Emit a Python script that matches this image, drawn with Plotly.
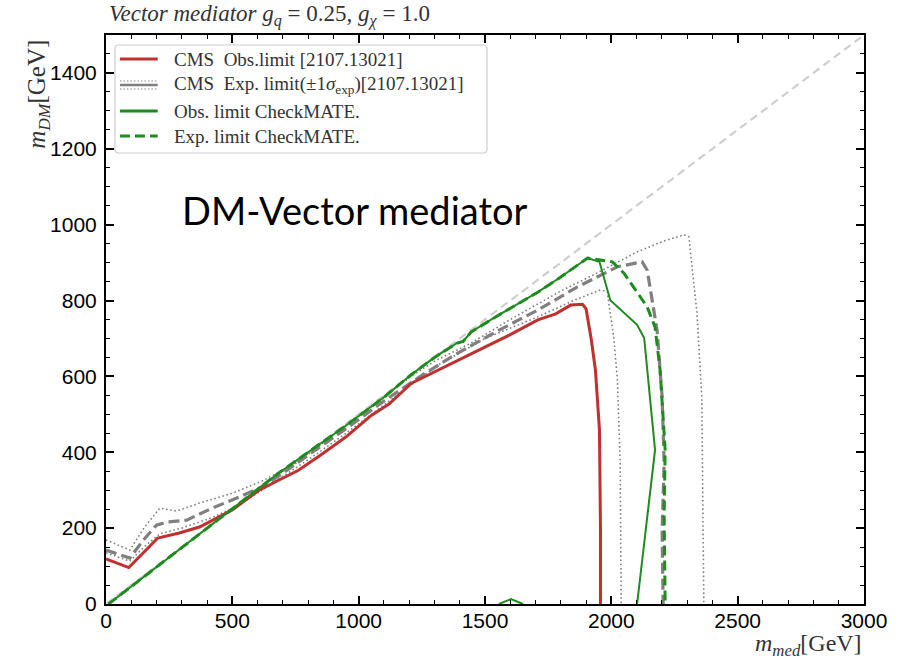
import plotly.graph_objects as go

# ---- data (GeV) ----
diag_x = [0, 3000]
diag_y = [0, 1500]

cms_obs_x = [0, 90, 140, 205, 290, 370, 500, 606, 685, 760, 850, 949, 1050, 1120, 1209,
             1300, 1421, 1472, 1600, 1709, 1780, 1839, 1886, 1900, 1920, 1937, 1953, 1957, 1957]
cms_obs_y = [119, 96, 130, 174, 187, 203, 248, 300, 327, 352, 393, 440, 497, 527, 582,
             612, 651, 670, 710, 749, 765, 788, 790, 778, 700, 617, 459, 200, 0]

cms_exp_x = [0, 94, 150, 200, 240, 319, 421, 528, 620, 700, 800, 950, 1100, 1250, 1394,
             1550, 1709, 1866, 2024, 2122, 2142, 2181, 2201, 2209, 2201, 2205]
cms_exp_y = [142, 121, 170, 208, 216, 221, 253, 282, 310, 345, 392, 462, 535, 603, 662,
             720, 775, 836, 889, 902, 880, 722, 546, 372, 195, 0]

cms_exp_up_x = [0, 94, 150, 213, 279, 370, 500, 620, 750, 900, 1050, 1200, 1300, 1445,
                1600, 1800, 1945, 2102, 2200, 2287, 2307, 2320, 2339, 2358, 2366]
cms_exp_up_y = [169, 142, 200, 253, 245, 266, 292, 325, 370, 445, 520, 597, 640, 688,
                750, 825, 873, 928, 955, 973, 968, 880, 767, 546, 0]

cms_exp_dn_x = [0, 94, 150, 213, 300, 420, 520, 650, 800, 950, 1100, 1315, 1500, 1709,
                1850, 1957, 1984, 1992, 2010, 2024, 2035, 2039]
cms_exp_dn_y = [135, 113, 150, 185, 200, 228, 258, 315, 380, 450, 525, 630, 700, 757,
                800, 828, 823, 783, 700, 591, 372, 0]

cm_obs_x = [10, 200, 400, 594, 685, 800, 949, 1100, 1209, 1300, 1390, 1413, 1445, 1550,
            1709, 1800, 1870, 1906, 1953, 1996, 2102, 2130, 2173, 2102,
            None, 1555, 1603, 1650]
cm_obs_y = [0, 97, 200, 300, 346, 400, 470, 545, 605, 650, 688, 692, 717, 760,
            822, 862, 895, 912, 902, 801, 736, 701, 406, 0,
            None, 0, 13, 0]

cm_exp_x = [10, 200, 400, 594, 685, 800, 949, 1100, 1209, 1300, 1390, 1413, 1445, 1550,
            1709, 1800, 1870, 1906, 2004, 2050, 2142, 2173, 2193, 2213, 2209, 2213]
cm_exp_y = [0, 97, 200, 300, 346, 400, 470, 545, 605, 650, 688, 692, 717, 760,
            822, 862, 895, 912, 902, 872, 783, 730, 617, 406, 230, 0]

RED = "#c0302f"
GREEN = "#1f8b1f"
GRAY = "#808080"
LGRAY = "#cfcfcf"

fig = go.Figure()
fig.add_trace(go.Scatter(x=diag_x, y=diag_y, mode="lines",
                         line=dict(color=LGRAY, width=2.2, dash="8px,5px")))
fig.add_trace(go.Scatter(x=cms_exp_up_x, y=cms_exp_up_y, mode="lines",
                         line=dict(color=GRAY, width=1.6, dash="1.6px,2.6px")))
fig.add_trace(go.Scatter(x=cms_exp_dn_x, y=cms_exp_dn_y, mode="lines",
                         line=dict(color=GRAY, width=1.6, dash="1.6px,2.6px")))
fig.add_trace(go.Scatter(x=cms_exp_x, y=cms_exp_y, mode="lines",
                         line=dict(color=GRAY, width=3.2, dash="11px,5px")))
fig.add_trace(go.Scatter(x=cms_obs_x, y=cms_obs_y, mode="lines",
                         line=dict(color=RED, width=3)))
fig.add_trace(go.Scatter(x=cm_obs_x, y=cm_obs_y, mode="lines",
                         line=dict(color=GREEN, width=2)))
fig.add_trace(go.Scatter(x=cm_exp_x, y=cm_exp_y, mode="lines",
                         line=dict(color=GREEN, width=3, dash="10px,5px")))

# plot area in pixels: x 106..868, y 35..604
L, R, T, B = 106, 868, 35, 604
W, H = R - L, B - T


def px(x):
    return (x - L) / W


def py(y):
    return (B - y) / H


SERIF = "Liberation Serif"
shapes = []
annotations = []

# legend frame with rounded corners
lx0, lx1, ly0, ly1, r = px(115), px(489), py(45), py(153), 4
rx, ry = r / W, r / H
path = (f"M {lx0+rx},{ly0} L {lx1-rx},{ly0} Q {lx1},{ly0} {lx1},{ly0-ry} "
        f"L {lx1},{ly1+ry} Q {lx1},{ly1} {lx1-rx},{ly1} L {lx0+rx},{ly1} "
        f"Q {lx0},{ly1} {lx0},{ly1+ry} L {lx0},{ly0-ry} Q {lx0},{ly0} {lx0+rx},{ly0} Z")
shapes.append(dict(type="path", xref="paper", yref="paper", path=path,
                   line=dict(color="#cccccc", width=1.2), fillcolor="rgba(255,255,255,0.85)"))

rows = [59, 85, 111, 136]
labels = [
    "CMS  Obs.limit [2107.13021]",
    "CMS  Exp. limit(±1<i>σ</i><sub>exp</sub>)[2107.13021]",
    "Obs. limit CheckMATE.",
    "Exp. limit CheckMATE.",
]
sx0, sx1 = px(120), px(158)
shapes.append(dict(type="line", xref="paper", yref="paper", x0=sx0, x1=sx1,
                   y0=py(rows[0]), y1=py(rows[0]), line=dict(color=RED, width=3)))
shapes.append(dict(type="line", xref="paper", yref="paper", x0=sx0, x1=sx1,
                   y0=py(rows[1]), y1=py(rows[1]), line=dict(color=GRAY, width=2.5)))
for d in (-4, 4):
    shapes.append(dict(type="line", xref="paper", yref="paper", x0=sx0, x1=sx1,
                       y0=py(rows[1] + d), y1=py(rows[1] + d),
                       line=dict(color=GRAY, width=1.2, dash="1.5px,2px")))
shapes.append(dict(type="line", xref="paper", yref="paper", x0=sx0, x1=sx1,
                   y0=py(rows[2]), y1=py(rows[2]), line=dict(color=GREEN, width=3)))
shapes.append(dict(type="line", xref="paper", yref="paper", x0=sx0, x1=sx1,
                   y0=py(rows[3]), y1=py(rows[3]),
                   line=dict(color=GREEN, width=3, dash="10px,5px")))
for yy, t in zip(rows, labels):
    annotations.append(dict(x=px(172), y=py(yy), xref="paper", yref="paper",
                            text=t, showarrow=False, xanchor="left", yanchor="middle",
                            font=dict(family=SERIF, size=19, color="#333333")))

# title, axis titles, big caption
annotations.append(dict(x=px(107), y=py(15), xref="paper", yref="paper",
                        text="<i>Vector mediator g</i><sub><i>q</i></sub> = 0.25, <i>g</i><sub><i>χ</i></sub> = 1.0",
                        showarrow=False, xanchor="left", yanchor="middle",
                        font=dict(family=SERIF, size=23, color="#333333")))
annotations.append(dict(x=px(868), y=py(645), xref="paper", yref="paper",
                        text="<i>m</i><sub><i>med</i></sub>[GeV]",
                        showarrow=False, xanchor="right", yanchor="middle",
                        font=dict(family=SERIF, size=24, color="#333333")))
annotations.append(dict(x=px(38), y=py(38), xref="paper", yref="paper",
                        text="<i>m</i><sub><i>DM</i></sub>[GeV]", textangle=-90,
                        showarrow=False, xanchor="center", yanchor="top",
                        font=dict(family=SERIF, size=25, color="#333333")))
annotations.append(dict(x=px(356), y=py(210), xref="paper", yref="paper",
                        text="DM-Vector mediator", showarrow=False,
                        xanchor="center", yanchor="middle",
                        font=dict(family="Lato", size=38, color="black")))

axis_common = dict(
    showgrid=False, zeroline=False, showline=True, linecolor="black", linewidth=2,
    mirror="allticks", ticks="inside", ticklen=8, tickwidth=1.5, tickcolor="black",
    tickfont=dict(family="Liberation Sans", size=21, color="black"),
)

fig.update_layout(
    width=899, height=664,
    margin=dict(l=L, r=899 - R, t=T, b=664 - B),
    paper_bgcolor="white", plot_bgcolor="white",
    showlegend=False,
    shapes=shapes, annotations=annotations,
    xaxis=dict(range=[0, 3000], tick0=0, dtick=500, ticklabelstandoff=-3,
               minor=dict(dtick=100, ticks="inside", ticklen=4, tickwidth=1, tickcolor="black"),
               **axis_common),
    yaxis=dict(range=[0, 1500], tick0=0, dtick=200, ticklabelstandoff=3,
               minor=dict(dtick=50, ticks="inside", ticklen=4, tickwidth=1, tickcolor="black"),
               **axis_common),
)

fig.write_html("out.html")
